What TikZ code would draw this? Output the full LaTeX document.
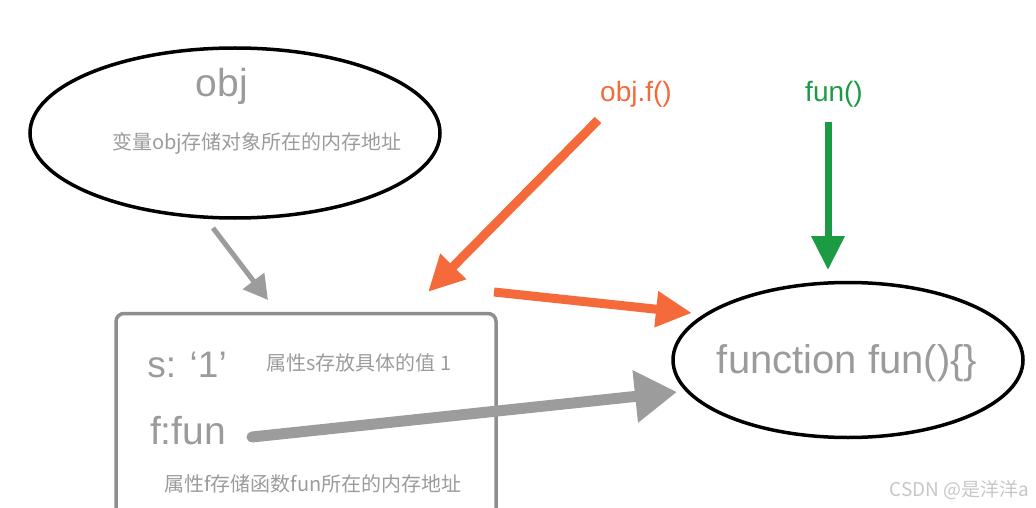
\documentclass[tikz,border=0pt]{standalone}
\usepackage{fontspec}
\setmainfont{Liberation Sans}
\newfontfamily\cjk{Noto Sans CJK SC}
\usetikzlibrary{arrows.meta,shapes.geometric}
\definecolor{txtgray}{HTML}{9B9B9B}
\definecolor{boxgray}{HTML}{8E8E8E}
\definecolor{arrgray}{HTML}{9C9C9C}
\definecolor{callorange}{HTML}{F56A3A}
\definecolor{callgreen}{HTML}{1C9A44}

\begin{document}
\begin{tikzpicture}[x=1pt,y=-1pt,
	blob/.style={draw=black, line width=3.5pt, ellipse, inner sep=0pt},
	big/.style={text=txtgray, font=\fontsize{39}{44}\selectfont},
	small/.style={text=txtgray, font=\cjk\fontsize{20}{24}\selectfont}]
	\useasboundingbox (0,0) rectangle (1036,508);
	% the object and its memory
	\node[blob, minimum width=410pt, minimum height=170pt] (obj) at (235,133) {};
	\node[big] (objname) at (222,86) {obj};
	\node[small] (objnote) at (257,143) {变量obj存储对象所在的内存地址};
	\node[draw=boxgray, line width=3.5pt, rounded corners=8pt, minimum width=380pt, minimum height=215pt] (box) at (306,421) {};
	\node[big, font=\fontsize{37}{42}\selectfont] (sval) at (187,365) {s: ‘1’};
	\node[small] (snote) at (359,363) {属性s存放具体的值 1};
	\node[big, font=\fontsize{39}{44}\selectfont] (ffun) at (188,431) {f:fun};
	\node[small] (fnote) at (313,484) {属性f存储函数fun所在的内存地址};
	% the function
	\node[blob, minimum width=350pt, minimum height=155pt] (func) at (848,360) {};
	\node[big, font=\fontsize{40}{46}\selectfont] (funcname) at (847,363) {function fun()\{\}};
	% the calls
	\node[text=callorange, font=\fontsize{28}{32}\selectfont] (call1) at (636,94) {obj.f()};
	\node[text=callgreen, font=\fontsize{28}{32}\selectfont] (call2) at (834,94) {fun()};
	\node[text=black!22, font=\cjk\fontsize{19}{22}\selectfont, anchor=west] (mark) at (886,490) {CSDN @是洋洋a};
	\coordinate (a1) at (213,228);
	\coordinate (a2) at (268,300);
	\coordinate (b1) at (252,437);
	\coordinate (b2) at (677,392);
	\coordinate (c1) at (598,120);
	\coordinate (c2) at (428,292);
	\coordinate (d1) at (494,292);
	\coordinate (d2) at (692,313);
	\coordinate (e1) at (828,122);
	\coordinate (e2) at (828,270);
	\draw[arrgray, line width=5pt, -{Triangle[length=24pt,width=26pt]}] (a1) -- (a2);
	\draw[arrgray, line width=11pt, line cap=round, -{Triangle[length=42pt,width=50pt]}] (b1) -- (b2);
	\draw[callorange, line width=9pt, -{Triangle[length=36pt,width=34pt]}] (c1) -- (c2);
	\draw[callorange, line width=9pt, -{Triangle[length=36pt,width=34pt]}] (d1) -- (d2);
	\draw[callgreen, line width=7pt, -{Triangle[length=34pt,width=32pt]}] (e1) -- (e2);
\end{tikzpicture}
\end{document}
